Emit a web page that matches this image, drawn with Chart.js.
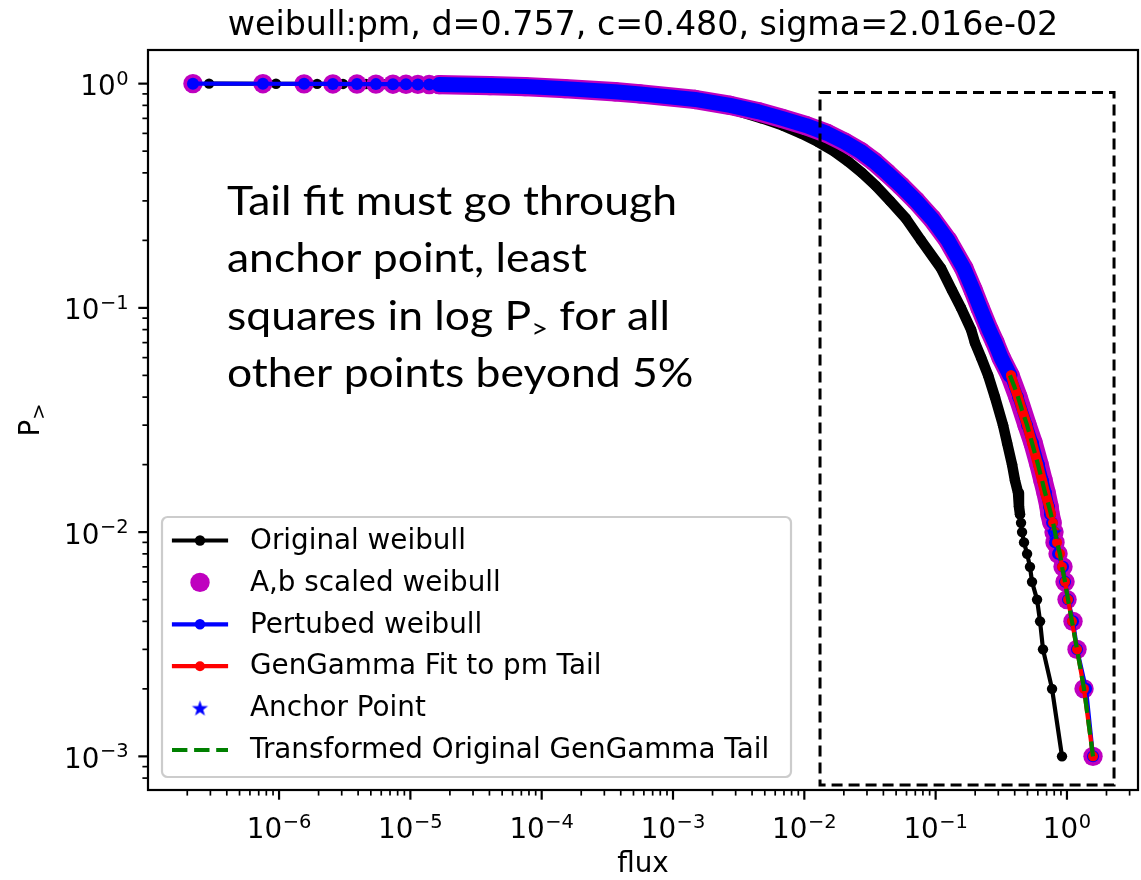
<!DOCTYPE html>
<html>
<head>
<meta charset="utf-8">
<script src="https://cdn.jsdelivr.net/npm/chart.js@4.4.1/dist/chart.umd.min.js"></script>
<style>
  html, body { margin: 0; padding: 0; background: #ffffff; }
  canvas { display: block; }
</style>
</head>
<body>
<canvas id="c" width="1141" height="880"></canvas>
<script>
// ---- data -------------------------------------------------------------
// exceedance probability levels P> shared by the three empirical curves
const survivalLevels = [
  1.000, 0.999, 0.998, 0.997, 0.996, 0.995, 0.994, 0.993, 0.992, 0.991, 0.990,
  0.98, 0.97, 0.95, 0.92, 0.90, 0.85, 0.80, 0.75, 0.70, 0.65, 0.60, 0.55, 0.50,
  0.45, 0.40, 0.35, 0.30, 0.25, 0.20, 0.15, 0.12, 0.10, 0.08, 0.07, 0.06, 0.05,
  0.04, 0.03, 0.025, 0.02, 0.017, 0.015, 0.013, 0.012, 0.011, 0.010, 0.009,
  0.008, 0.007, 0.006, 0.005, 0.004, 0.003, 0.002, 0.001
];
// flux of the original weibull sample at each level
const originalFlux = [
  2.93e-7, 9.48e-7, 1.95e-6, 3.07e-6, 4.59e-6, 6.30e-6, 8.34e-6, 1.03e-5, 1.27e-5, 1.51e-5, 1.77e-5,
  4.18e-5, 7.33e-5, 1.43e-4, 3.20e-4, 4.87e-4, 1.13e-3, 2.09e-3, 3.24e-3, 4.76e-3, 6.88e-3, 9.43e-3, 1.27e-2, 1.68e-2,
  2.15e-2, 2.75e-2, 3.51e-2, 4.49e-2, 5.95e-2, 7.74e-2, 0.110, 0.133, 0.156, 0.186, 0.199, 0.222, 0.251,
  0.283, 0.326, 0.350, 0.382, 0.402, 0.424, 0.431, 0.439, 0.447, 0.455, 0.471,
  0.497, 0.523, 0.542, 0.592, 0.624, 0.657, 0.770, 0.917
];
// flux after the A,b scaling
const scaledFlux = [
  2.21e-7, 7.54e-7, 1.55e-6, 2.57e-6, 3.92e-6, 5.47e-6, 7.37e-6, 9.26e-6, 1.14e-5, 1.39e-5, 1.65e-5,
  4.04e-5, 7.46e-5, 1.50e-4, 3.62e-4, 5.61e-4, 1.47e-3, 2.72e-3, 4.44e-3, 6.76e-3, 1.03e-2, 1.49e-2, 2.01e-2, 2.66e-2,
  3.39e-2, 4.26e-2, 5.45e-2, 7.09e-2, 9.38e-2, 0.124, 0.164, 0.193, 0.218, 0.255, 0.283, 0.315, 0.368,
  0.424, 0.497, 0.552, 0.613, 0.657, 0.693, 0.730, 0.743, 0.770, 0.797, 0.811,
  0.855, 0.933, 0.967, 1.001, 1.112, 1.193, 1.349, 1.579
];
// flux of the perturbed sample
const perturbedFlux = [
  2.21e-7, 7.54e-7, 1.55e-6, 2.57e-6, 3.92e-6, 5.47e-6, 7.37e-6, 9.26e-6, 1.14e-5, 1.39e-5, 1.65e-5,
  4.04e-5, 7.46e-5, 1.50e-4, 3.62e-4, 5.61e-4, 1.47e-3, 2.72e-3, 4.44e-3, 6.76e-3, 1.03e-2, 1.49e-2, 2.01e-2, 2.66e-2,
  3.39e-2, 4.26e-2, 5.45e-2, 7.09e-2, 9.38e-2, 0.124, 0.164, 0.193, 0.218, 0.255, 0.283, 0.315, 0.368,
  0.424, 0.497, 0.552, 0.613, 0.657, 0.693, 0.730, 0.743, 0.770, 0.797, 0.811,
  0.855, 0.933, 0.967, 1.019, 1.112, 1.193, 1.397, 1.579
];
// tail beyond 5 %
const tailLevels = [
  0.05, 0.045, 0.04, 0.035, 0.03, 0.025, 0.02, 0.017, 0.015, 0.013, 0.012,
  0.011, 0.010, 0.009, 0.008, 0.007, 0.006, 0.005, 0.004, 0.003, 0.002, 0.001
];
const fitFlux = [
  0.375, 0.395, 0.424, 0.455, 0.497, 0.542, 0.602, 0.646, 0.681, 0.730, 0.756,
  0.783, 0.811, 0.840, 0.885, 0.917, 0.967, 1.019, 1.092, 1.193, 1.349, 1.579
];
const transformedFlux = [
  0.368, 0.395, 0.424, 0.455, 0.497, 0.542, 0.602, 0.646, 0.681, 0.730, 0.756,
  0.783, 0.811, 0.840, 0.885, 0.917, 0.967, 1.019, 1.092, 1.193, 1.349, 1.579
];
const anchorFlux = [0.797];
const anchorLevel = [0.010];

const seriesNames = [
  'Original weibull', 'A,b scaled weibull', 'Pertubed weibull',
  'GenGamma Fit to pm Tail', 'Anchor Point', 'Transformed Original GenGamma Tail'
];
const xTickExponents = [-6, -5, -4, -3, -2, -1, 0];
const yTickExponents = [0, -1, -2, -3];
const titleText = 'weibull:pm, d=0.757, c=0.480, sigma=2.016e-02';
const noteLines = [
  [['Tail fit must go through', false]],
  [['anchor point, least', false]],
  [['squares in log P', false], ['>', true], [' for all', false]],
  [['other points beyond 5%', false]]
];

// ---- styling ----------------------------------------------------------
const FONT = '"DejaVu Sans", sans-serif';
const FS = 27.8;
const SS = FS * 0.7;
const BLACK = '#000000', MAGENTA = '#bf00bf', BLUE = '#0000ff', RED = '#ff0000', GREEN = '#008000';
const NONE = 'rgba(0,0,0,0)';

const toPoints = (xs, ys) => xs.map((x, i) => ({ x: x, y: ys[i] }));
const inBand = (ctx, hi, lo) => ctx.p0.parsed.y <= hi + 1e-9 && ctx.p1.parsed.y >= lo - 1e-9;

function starCanvas(r, color) {
  const c = document.createElement('canvas');
  const s = Math.ceil(r * 2 + 2);
  c.width = s; c.height = s;
  const g = c.getContext('2d');
  g.translate(s / 2, s / 2 + r * 0.08);
  g.beginPath();
  for (let i = 0; i < 10; i++) {
    const rad = i % 2 ? r * 0.4 : r;
    const a = -Math.PI / 2 + i * Math.PI / 5;
    g.lineTo(rad * Math.cos(a), rad * Math.sin(a));
  }
  g.closePath();
  g.fillStyle = color;
  g.fill();
  return c;
}
const STAR = starCanvas(8.5, BLUE);

function logTicks(scale) {
  const out = [];
  const lo = Math.floor(Math.log10(scale.min)), hi = Math.ceil(Math.log10(scale.max));
  for (let e = lo; e <= hi; e++) {
    for (let m = 1; m <= 9; m++) {
      const v = m * Math.pow(10, e);
      if (v >= scale.min * (1 - 1e-9) && v <= scale.max * (1 + 1e-9)) out.push({ value: v });
    }
  }
  scale.ticks = out;
}
function exponentOf(v) {
  const e = Math.round(Math.log10(v));
  return Math.abs(v / Math.pow(10, e) - 1) < 1e-6 ? e : null;
}

// "10" with a raised exponent; returns width, draws when draw=true
function powerText(ctx, e, x, baseline, draw) {
  const exp = String(e).replace('-', '\u2212');
  ctx.font = FS + 'px ' + FONT;
  const wb = ctx.measureText('10').width;
  ctx.font = SS + 'px ' + FONT;
  const we = ctx.measureText(exp).width;
  if (draw) {
    ctx.font = FS + 'px ' + FONT;
    ctx.fillText('10', x, baseline);
    ctx.font = SS + 'px ' + FONT;
    ctx.fillText(exp, x + wb + 0.5, baseline - 10.5);
  }
  return wb + we + 0.5;
}

// ---- decorations: spines, ticks, titles, legend, note ----------------
const decor = {
  id: 'decor',
  beforeDraw(chart) {
    const { ctx, width, height } = chart;
    ctx.save();
    ctx.fillStyle = '#ffffff';
    ctx.fillRect(0, 0, width, height);
    ctx.restore();
  },
  afterDatasetsDraw(chart) {
    const { ctx, chartArea: a, scales: { x, y } } = chart;
    ctx.save();
    ctx.strokeStyle = BLACK;
    ctx.lineCap = 'butt';
    // tick marks, outward
    x.ticks.forEach(t => {
      const px = x.getPixelForValue(t.value);
      const major = exponentOf(t.value) !== null;
      ctx.lineWidth = major ? 2.2 : 1.7;
      ctx.beginPath();
      ctx.moveTo(px, a.bottom);
      ctx.lineTo(px, a.bottom + (major ? 9.7 : 5.6));
      ctx.stroke();
    });
    y.ticks.forEach(t => {
      const py = y.getPixelForValue(t.value);
      const major = exponentOf(t.value) !== null;
      ctx.lineWidth = major ? 2.2 : 1.7;
      ctx.beginPath();
      ctx.moveTo(a.left, py);
      ctx.lineTo(a.left - (major ? 9.7 : 5.6), py);
      ctx.stroke();
    });
    // spines
    ctx.lineWidth = 2.2;
    ctx.lineJoin = 'miter';
    ctx.strokeRect(a.left, a.top, a.right - a.left, a.bottom - a.top);

    // tick labels
    ctx.fillStyle = BLACK;
    ctx.textAlign = 'left';
    ctx.textBaseline = 'alphabetic';
    xTickExponents.forEach(e => {
      const px = x.getPixelForValue(Math.pow(10, e));
      const w = powerText(ctx, e, 0, 0, false);
      powerText(ctx, e, px - w / 2, 838, true);
    });
    yTickExponents.forEach(e => {
      const py = y.getPixelForValue(Math.pow(10, e));
      const w = powerText(ctx, e, 0, 0, false);
      powerText(ctx, e, a.left - 19.4 - w, py + 11.5, true);
    });

    // title and axis labels
    ctx.textAlign = 'center';
    const cx = (a.left + a.right) / 2;
    ctx.font = '33.3px ' + FONT;
    ctx.fillText(titleText, cx, a.top - 15);
    ctx.font = FS + 'px ' + FONT;
    ctx.fillText('flux', cx, 872);

    // y label: P with a ">" subscript, rotated
    ctx.save();
    ctx.translate(39, (a.top + a.bottom) / 2);
    ctx.rotate(-Math.PI / 2);
    ctx.textAlign = 'left';
    ctx.font = FS + 'px ' + FONT;
    const wP = ctx.measureText('P').width;
    ctx.font = SS + 'px ' + FONT;
    const wS = ctx.measureText('>').width;
    const x0 = -(wP + wS) / 2;
    ctx.font = FS + 'px ' + FONT;
    ctx.fillText('P', x0, 0);
    ctx.font = SS + 'px ' + FONT;
    ctx.fillText('>', x0 + wP, 5.5);
    ctx.restore();

    drawLegend(chart);
    ctx.restore();
  },
  afterDraw(chart) {
    const { ctx, scales: { x, y } } = chart;
    ctx.save();
    // dashed frame around the tail region
    const l = x.getPixelForValue(0.01317), r = x.getPixelForValue(2.283);
    const t = y.getPixelForValue(0.913), b = y.getPixelForValue(7.45e-4);
    ctx.strokeStyle = BLACK;
    ctx.lineWidth = 3;
    ctx.setLineDash([11, 6]);
    ctx.lineCap = 'butt';
    ctx.strokeRect(l, t, r - l, b - t);
    ctx.setLineDash([]);

    // note
    const size = 40;
    ctx.font = size + 'px Lato, "Open Sans", sans-serif';
    const w1 = ctx.measureText(noteLines[0][0][0]).width;
    const sx = 450 / w1;
    ctx.fillStyle = BLACK;
    ctx.textAlign = 'left';
    ctx.textBaseline = 'alphabetic';
    const baseX = 227;
    noteLines.forEach((parts, i) => {
      const baseY = 215 + i * 57.3;
      let cur = 0;
      parts.forEach(([txt, sub]) => {
        ctx.save();
        ctx.translate(baseX, baseY);
        ctx.scale(sx, 1);
        ctx.font = (sub ? 26 : size) + 'px Lato, "Open Sans", sans-serif';
        ctx.fillText(txt, cur, sub ? 8 : 0);
        cur += ctx.measureText(txt).width;
        ctx.restore();
      });
    });
    ctx.restore();
  }
};

function drawLegend(chart) {
  const { ctx } = chart;
  const bx = 162, by = 517, bw = 629, bh = 260, rr = 5.6;
  ctx.save();
  ctx.beginPath();
  ctx.moveTo(bx + rr, by);
  ctx.arcTo(bx + bw, by, bx + bw, by + bh, rr);
  ctx.arcTo(bx + bw, by + bh, bx, by + bh, rr);
  ctx.arcTo(bx, by + bh, bx, by, rr);
  ctx.arcTo(bx, by, bx + bw, by, rr);
  ctx.closePath();
  ctx.fillStyle = 'rgba(255,255,255,0.8)';
  ctx.fill();
  ctx.strokeStyle = '#cccccc';
  ctx.lineWidth = 2.2;
  ctx.stroke();

  const entries = chart.data.datasets.filter(ds => !ds.hiddenFromLegend);
  entries.forEach((ds, i) => {
    const cy = 540.5 + i * 41.9;
    const hx0 = 172, hx1 = 228, hc = 200;
    if (ds.showLine) {
      ctx.save();
      ctx.strokeStyle = ds.legendColor;
      ctx.lineWidth = 4.2;
      ctx.lineCap = ds.borderDash ? 'butt' : 'square';
      ctx.setLineDash(ds.borderDash || []);
      ctx.beginPath();
      ctx.moveTo(hx0 + (ds.borderDash ? 0 : 2), cy);
      ctx.lineTo(hx1 - (ds.borderDash ? 0 : 2), cy);
      ctx.stroke();
      ctx.restore();
    }
    if (ds.pointStyle === STAR) {
      ctx.drawImage(STAR, hc - STAR.width / 2, cy - STAR.height / 2);
    } else if (ds.pointRadius > 0) {
      ctx.beginPath();
      ctx.arc(hc, cy, ds.legendRadius || ds.pointRadius, 0, Math.PI * 2);
      ctx.fillStyle = ds.pointBackgroundColor;
      ctx.fill();
    }
    ctx.fillStyle = BLACK;
    ctx.font = FS + 'px ' + FONT;
    ctx.textAlign = 'left';
    ctx.textBaseline = 'middle';
    ctx.fillText(ds.label, 250, cy + 1);
  });
  ctx.restore();
}

// ---- chart ------------------------------------------------------------
const chart = new Chart(document.getElementById('c'), {
  type: 'scatter',
  data: {
    datasets: [
      {
        label: seriesNames[0],
        data: toPoints(originalFlux, survivalLevels),
        showLine: true,
        legendColor: BLACK,
        borderColor: BLACK,
        borderWidth: 4.2,
        borderJoinStyle: 'round',
        borderCapStyle: 'round',
        pointRadius: 5.2,
        pointBackgroundColor: BLACK,
        pointBorderWidth: 0,
        segment: { borderWidth: ctx => inBand(ctx, 0.99, 0.012) ? 10.5 : 4.2 },
        order: 6
      },
      {
        label: seriesNames[1],
        data: toPoints(scaledFlux, survivalLevels),
        showLine: false,
        legendColor: MAGENTA,
        borderColor: MAGENTA,
        borderWidth: 0,
        pointRadius: 9.7,
        pointBackgroundColor: MAGENTA,
        pointBorderWidth: 0,
        order: 5
      },
      {
        // continuous body of the densely packed scaled markers
        label: seriesNames[1],
        hiddenFromLegend: true,
        data: toPoints(scaledFlux, survivalLevels),
        showLine: true,
        borderColor: MAGENTA,
        borderWidth: 19.4,
        borderJoinStyle: 'round',
        borderCapStyle: 'round',
        pointRadius: 0,
        segment: { borderColor: ctx => inBand(ctx, 0.99, 0.011) ? MAGENTA : NONE },
        order: 5
      },
      {
        label: seriesNames[2],
        data: toPoints(perturbedFlux, survivalLevels),
        showLine: true,
        legendColor: BLUE,
        borderColor: BLUE,
        borderWidth: 4.2,
        borderJoinStyle: 'round',
        borderCapStyle: 'round',
        pointRadius: 6,
        legendRadius: 5.2,
        pointBackgroundColor: BLUE,
        pointBorderWidth: 0,
        segment: {
          borderWidth: ctx => inBand(ctx, 0.99, 0.05) ? 15 : (inBand(ctx, 0.05, 0.012) ? 11 : 4.2)
        },
        order: 4
      },
      {
        label: seriesNames[3],
        data: toPoints(fitFlux, tailLevels),
        showLine: true,
        legendColor: RED,
        borderColor: RED,
        borderWidth: 4.2,
        borderJoinStyle: 'round',
        borderCapStyle: 'round',
        pointRadius: 5,
        pointBackgroundColor: RED,
        pointBorderWidth: 0,
        segment: { borderWidth: ctx => inBand(ctx, 0.05, 0.012) ? 10 : 4.2 },
        order: 3
      },
      {
        label: seriesNames[4],
        data: toPoints(anchorFlux, anchorLevel),
        showLine: false,
        legendColor: BLUE,
        pointStyle: STAR,
        pointRadius: 8.5,
        order: 2
      },
      {
        label: seriesNames[5],
        data: toPoints(transformedFlux, tailLevels),
        showLine: true,
        legendColor: GREEN,
        borderColor: GREEN,
        borderWidth: 4.2,
        borderDash: [15.4, 6.7],
        borderCapStyle: 'butt',
        pointRadius: 0,
        order: 1
      }
    ]
  },
  options: {
    responsive: false,
    devicePixelRatio: 1,
    animation: false,
    events: [],
    layout: { autoPadding: false, padding: { top: 50, right: 3, left: 0, bottom: 0 } },
    plugins: { legend: { display: false }, tooltip: { enabled: false }, title: { display: false } },
    scales: {
      x: {
        type: 'logarithmic',
        position: 'bottom',
        min: Math.pow(10, -6.998),
        max: Math.pow(10, 0.541),
        afterBuildTicks: logTicks,
        afterFit: s => { s.height = 90; },
        border: { display: false },
        grid: { display: false },
        ticks: { display: false, autoSkip: false }
      },
      y: {
        type: 'logarithmic',
        position: 'left',
        min: Math.pow(10, -3.15),
        max: Math.pow(10, 0.15),
        afterBuildTicks: logTicks,
        afterFit: s => { s.width = 148; },
        border: { display: false },
        grid: { display: false },
        ticks: { display: false, autoSkip: false }
      }
    }
  },
  plugins: [decor]
});
</script>
</body>
</html>
